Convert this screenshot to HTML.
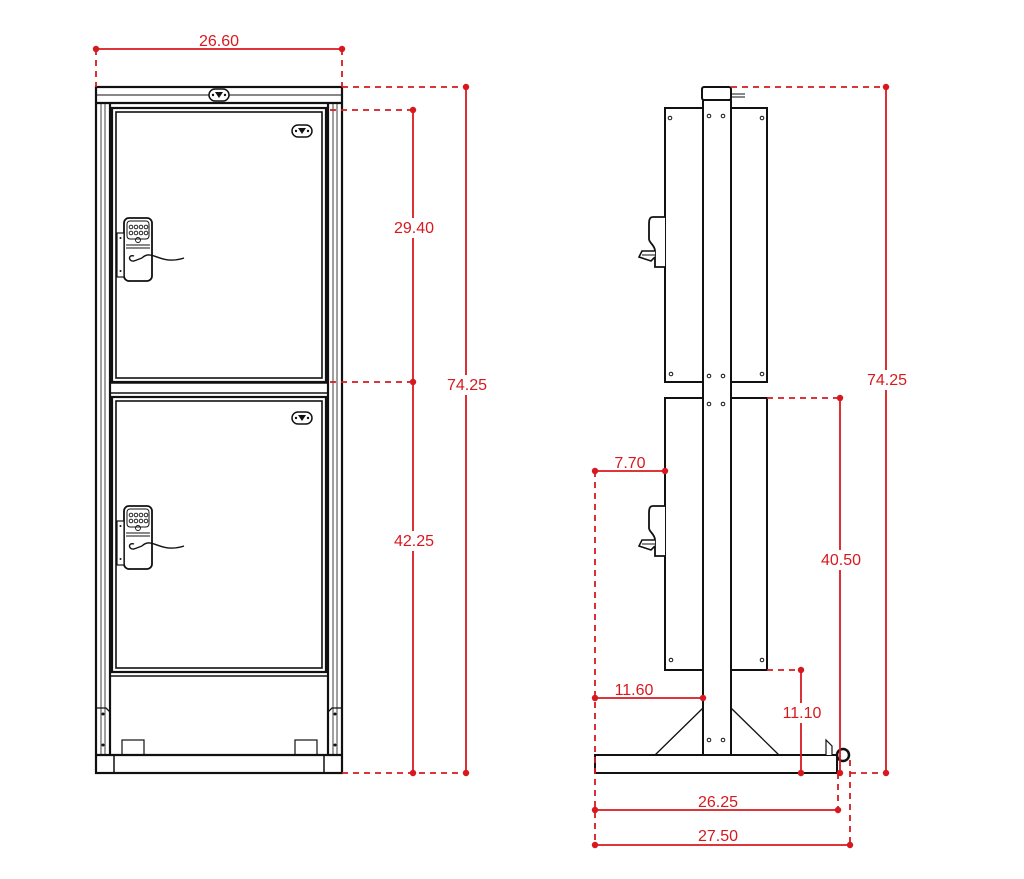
<!DOCTYPE html>
<html><head><meta charset="utf-8"><style>
html,body{margin:0;padding:0;background:#fff;}
svg{display:block;}
text{font-family:"Liberation Sans",sans-serif;font-size:16px;fill:#d7191f;}
</style></head><body>
<svg width="1024" height="879" viewBox="0 0 1024 879" xmlns="http://www.w3.org/2000/svg">
<defs>
<g id="lock">
 <rect x="0" y="0" width="28" height="63" rx="5" fill="#fff" stroke="#111" stroke-width="1.8"/>
 <rect x="3" y="3" width="22" height="18" rx="3" fill="none" stroke="#111" stroke-width="1"/>
 <g fill="none" stroke="#111" stroke-width="0.9">
  <circle cx="7" cy="9" r="1.8"/><circle cx="12" cy="9" r="1.8"/><circle cx="17" cy="9" r="1.8"/><circle cx="22" cy="9" r="1.8"/>
  <circle cx="7" cy="15" r="1.8"/><circle cx="12" cy="15" r="1.8"/><circle cx="17" cy="15" r="1.8"/><circle cx="22" cy="15" r="1.8"/>
  <circle cx="14" cy="22" r="2.5"/>
  <line x1="2" y1="27" x2="26" y2="27"/><line x1="2" y1="30" x2="26" y2="30"/>
 </g>
 <path d="M10 38 C4 36 4 44 10 43 L18 40" fill="none" stroke="#111" stroke-width="1.4"/>
 <path d="M18 40 C28 30 36 48 60 40" fill="none" stroke="#111" stroke-width="1.4"/>
 <rect x="-7" y="15" width="7" height="44" fill="#fff" stroke="#111" stroke-width="1.2"/>
 <circle cx="-3.5" cy="20" r="1" fill="#111"/><circle cx="-3.5" cy="53" r="1" fill="#111"/>
</g>
<g id="badge">
 <rect x="0" y="0" width="20" height="12" rx="6" fill="#fff" stroke="#111" stroke-width="1.5"/>
 <path d="M6 3 L14 3 L10 9 Z" fill="#111"/>
 <circle cx="4" cy="6" r="1.2" fill="#111"/><circle cx="16" cy="6" r="1.2" fill="#111"/>
</g>
<g id="handle">
 <path d="M20 0 L8 0 C4 0 4 4 4 8 L4 22 C4 26 10 28 10 34 L10 50 L20 50" fill="#fff" stroke="#111" stroke-width="1.8"/>
 <path d="M10 34 L-3 34 L-6 40 L6 44 L10 40" fill="#fff" stroke="#111" stroke-width="1.6"/>
 <line x1="-3" y1="38" x2="10" y2="38" stroke="#111" stroke-width="1"/>
</g>
</defs>

<g fill="none" stroke="#111">
 <rect x="96" y="87" width="246" height="686" stroke-width="2.2"/>
 <line x1="96" y1="95" x2="342" y2="95" stroke-width="1"/>
 <line x1="96" y1="103" x2="342" y2="103" stroke-width="2.2"/>
 <line x1="110" y1="103" x2="110" y2="755" stroke-width="2.2"/>
 <line x1="101" y1="103" x2="101" y2="755" stroke-width="0.8"/>
 <line x1="105" y1="103" x2="105" y2="755" stroke-width="0.8"/>
 <line x1="328" y1="103" x2="328" y2="755" stroke-width="2.2"/>
 <line x1="333" y1="103" x2="333" y2="755" stroke-width="0.8"/>
 <line x1="337" y1="103" x2="337" y2="755" stroke-width="0.8"/>
 <rect x="112" y="108" width="214" height="274" stroke-width="2.2"/>
 <rect x="116" y="112" width="206" height="266" stroke-width="1.6"/>
 <line x1="110" y1="383" x2="328" y2="383" stroke-width="1.6"/>
 <line x1="110" y1="393" x2="328" y2="393" stroke-width="1.6"/>
 <rect x="112" y="397" width="214" height="275" stroke-width="2.2"/>
 <rect x="116" y="401" width="206" height="267" stroke-width="1.6"/>
 <line x1="110" y1="676" x2="328" y2="676" stroke-width="1.6"/>
 <line x1="96" y1="755" x2="342" y2="755" stroke-width="2.2"/>
 <rect x="96" y="755" width="18" height="18" stroke-width="1.5"/>
 <rect x="324" y="755" width="18" height="18" stroke-width="1.5"/>
 <rect x="122" y="740" width="22" height="15" stroke-width="1.2"/>
 <rect x="295" y="740" width="22" height="15" stroke-width="1.2"/>
 <path d="M96 708 L106 708 L110 712 L110 755" stroke-width="1.3"/>
 <path d="M342 708 L332 708 L328 712 L328 755" stroke-width="1.3"/>
</g>
<g fill="#111">
 <circle cx="103" cy="714" r="1.5"/><circle cx="103" cy="745" r="1.5"/>
 <circle cx="335" cy="714" r="1.5"/><circle cx="335" cy="745" r="1.5"/>
</g>
<use href="#badge" x="209" y="89"/>
<use href="#badge" x="292" y="125"/>
<use href="#badge" x="292" y="412"/>
<use href="#lock" x="124" y="218"/>
<use href="#lock" x="124" y="506"/>

<g fill="#fff" stroke="#111">
 <rect x="665" y="108" width="102" height="274" stroke-width="2"/>
 <rect x="665" y="398" width="102" height="272" stroke-width="2"/>
 <polygon points="703,708 655,755 703,755" stroke-width="1.3"/>
 <polygon points="731,708 779,755 731,755" stroke-width="1.3"/>
 <rect x="703" y="100" width="28" height="655" stroke-width="2"/>
 <rect x="702" y="87" width="29" height="13" rx="2" stroke-width="2"/>
 <rect x="595" y="755" width="242" height="18" stroke-width="2"/>
 <path d="M826 755 L826 740 L832 746 L832 755" stroke-width="1.2"/>
 <circle cx="843" cy="755" r="6" stroke-width="2.5"/>
</g>
<line x1="731" y1="94" x2="745" y2="94" stroke="#111" stroke-width="1"/>
<line x1="731" y1="97" x2="745" y2="97" stroke="#111" stroke-width="1"/>
<g fill="none" stroke="#111" stroke-width="1">
 <circle cx="670" cy="118" r="1.8"/><circle cx="709" cy="116" r="1.8"/><circle cx="723" cy="116" r="1.8"/><circle cx="762" cy="118" r="1.8"/>
 <circle cx="671" cy="374" r="1.8"/><circle cx="709" cy="376" r="1.8"/><circle cx="723" cy="376" r="1.8"/><circle cx="762" cy="374" r="1.8"/>
 <circle cx="709" cy="404" r="1.8"/><circle cx="723" cy="404" r="1.8"/>
 <circle cx="671" cy="660" r="1.8"/><circle cx="762" cy="660" r="1.8"/>
 <circle cx="709" cy="740" r="1.8"/><circle cx="723" cy="740" r="1.8"/>
</g>
<use href="#handle" x="645" y="217"/>
<use href="#handle" x="645" y="506"/>

<g stroke="#d7191f" stroke-width="1.8" fill="none">
 <line x1="96" y1="49" x2="342" y2="49"/>
 <g stroke-dasharray="6,5">
  <line x1="96" y1="49" x2="96" y2="87"/><line x1="342" y1="49" x2="342" y2="87"/>
  <line x1="342" y1="87" x2="466" y2="87"/>
  <line x1="330" y1="110" x2="413" y2="110"/>
  <line x1="330" y1="382" x2="413" y2="382"/>
  <line x1="342" y1="773" x2="466" y2="773"/>
  <line x1="731" y1="87" x2="886" y2="87"/>
  <line x1="767" y1="398" x2="840" y2="398"/>
  <line x1="767" y1="670" x2="801" y2="670"/>
  <line x1="850" y1="773" x2="886" y2="773"/>
  <line x1="595" y1="471" x2="595" y2="845"/>
  <line x1="838" y1="773" x2="838" y2="810"/>
  <line x1="850" y1="760" x2="850" y2="845"/>
 </g>
 <line x1="413" y1="110" x2="413" y2="773"/>
 <line x1="466" y1="87" x2="466" y2="773"/>
 <line x1="886" y1="87" x2="886" y2="773"/>
 <line x1="840" y1="398" x2="840" y2="773"/>
 <line x1="595" y1="471" x2="665" y2="471"/>
 <line x1="595" y1="698" x2="703" y2="698"/>
 <line x1="801" y1="670" x2="801" y2="773"/>
 <line x1="595" y1="810" x2="838" y2="810"/>
 <line x1="595" y1="845" x2="850" y2="845"/>
</g>
<g fill="#d7191f">
 <circle cx="96" cy="49" r="3.2"/><circle cx="342" cy="49" r="3.2"/>
 <circle cx="466" cy="87" r="3.2"/><circle cx="466" cy="773" r="3.2"/>
 <circle cx="413" cy="110" r="3.2"/><circle cx="413" cy="382" r="3.2"/><circle cx="413" cy="773" r="3.2"/>
 <circle cx="886" cy="87" r="3.2"/><circle cx="886" cy="773" r="3.2"/>
 <circle cx="840" cy="398" r="3.2"/><circle cx="840" cy="773" r="3.2"/>
 <circle cx="595" cy="471" r="3.2"/><circle cx="665" cy="471" r="3.2"/>
 <circle cx="595" cy="698" r="3.2"/><circle cx="703" cy="698" r="3.2"/>
 <circle cx="801" cy="670" r="3.2"/><circle cx="801" cy="773" r="3.2"/>
 <circle cx="595" cy="810" r="3.2"/><circle cx="838" cy="810" r="3.2"/>
 <circle cx="595" cy="845" r="3.2"/><circle cx="850" cy="845" r="3.2"/>
</g>
<g>
 <rect x="190" y="31" width="58" height="16" fill="#fff"/>
 <text x="219" y="46" text-anchor="middle">26.60</text>
 <rect x="390" y="218" width="48" height="20" fill="#fff"/>
 <text x="414" y="233" text-anchor="middle">29.40</text>
 <rect x="390" y="531" width="48" height="20" fill="#fff"/>
 <text x="414" y="546" text-anchor="middle">42.25</text>
 <rect x="443" y="375" width="48" height="20" fill="#fff"/>
 <text x="467" y="390" text-anchor="middle">74.25</text>
 <rect x="863" y="370" width="48" height="20" fill="#fff"/>
 <text x="887" y="385" text-anchor="middle">74.25</text>
 <rect x="817" y="550" width="48" height="20" fill="#fff"/>
 <text x="841" y="565" text-anchor="middle">40.50</text>
 <rect x="778" y="703" width="48" height="20" fill="#fff"/>
 <text x="802" y="718" text-anchor="middle">11.10</text>
 <text x="630" y="468" text-anchor="middle">7.70</text>
 <text x="634" y="695" text-anchor="middle">11.60</text>
 <text x="718" y="807" text-anchor="middle">26.25</text>
 <text x="718" y="841" text-anchor="middle">27.50</text>
</g>
</svg>
</body></html>
